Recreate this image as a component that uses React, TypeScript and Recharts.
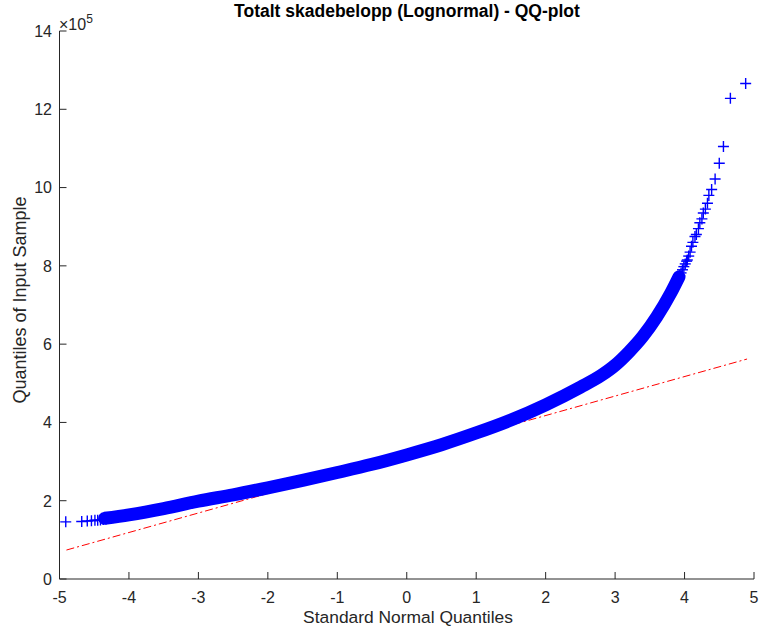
import React from 'react';
import { ComposedChart, XAxis, YAxis, Line, Scatter } from 'recharts';

// x: standard normal quantiles, y: sample quantiles in units of 1e5
const bandX = [-4.35, -4.0, -3.5, -3.0, -2.5, -2.0, -1.5, -1.0, -0.5, 0, 0.5, 1.0, 1.5, 2.0, 2.5, 2.8, 3.0, 3.2, 3.4, 3.6, 3.8, 3.92];
const bandY = [1.55, 1.64, 1.8, 1.99, 2.15, 2.33, 2.52, 2.72, 2.93, 3.17, 3.43, 3.73, 4.06, 4.45, 4.9, 5.2, 5.46, 5.8, 6.2, 6.7, 7.3, 7.72];

const tailX = [-4.91, -4.68, -4.6, -4.54, -4.49, -4.45, -4.41, -4.37, -4.33, 3.9, 3.93, 3.95, 3.97, 3.99, 4.01, 4.03, 4.04, 4.06, 4.08, 4.1, 4.12, 4.15, 4.17, 4.2, 4.22, 4.25, 4.27, 4.3, 4.33, 4.35, 4.39, 4.44, 4.5, 4.56, 4.66, 4.88];
const tailY = [1.46, 1.47, 1.48, 1.49, 1.5, 1.5, 1.51, 1.52, 1.53, 7.62, 7.75, 7.82, 7.9, 7.98, 8.05, 8.12, 8.15, 8.25, 8.35, 8.5, 8.6, 8.75, 8.8, 8.95, 9.1, 9.2, 9.35, 9.45, 9.6, 9.8, 9.95, 10.22, 10.62, 11.05, 12.28, 12.66];

const refX = [-4.9, 4.9];
const refY = [0.74, 5.62];

const xTicks = [-5, -4, -3, -2, -1, 0, 1, 2, 3, 4, 5];
const yTicks = [0, 2, 4, 6, 8, 10, 12, 14];

const bandData = bandX.map((x, i) => ({ x, y: bandY[i] }));
const tailData = tailX.map((x, i) => ({ x, y: tailY[i] }));
const refData = refX.map((x, i) => ({ x, y: refY[i] }));

const FONT = '"Liberation Sans", Arial, Helvetica, sans-serif';
const INK = '#262626';

const XTick = (props: any) => {
  const { x, y, payload } = props;
  return (
    <g>
      <line x1={x} y1={y} x2={x} y2={y - 7} stroke={INK} strokeWidth={1} />
      <text x={x} y={y + 23.5} textAnchor="middle" fontSize={16} fill={INK} fontFamily={FONT}>
        {payload.value}
      </text>
    </g>
  );
};

const YTick = (props: any) => {
  const { x, y, payload } = props;
  return (
    <g>
      <line x1={x} y1={y} x2={x + 7} y2={y} stroke={INK} strokeWidth={1} />
      <text x={x - 7.5} y={y + 5.8} textAnchor="end" fontSize={16} fill={INK} fontFamily={FONT}>
        {payload.value}
      </text>
    </g>
  );
};

const Plus = (props: any) => {
  const { cx, cy } = props;
  if (cx == null || cy == null) return null;
  const r = 5.5;
  return (
    <g>
      <line x1={cx - r} y1={cy} x2={cx + r} y2={cy} stroke="#0000ff" strokeWidth={1.4} />
      <line x1={cx} y1={cy - r} x2={cx} y2={cy + r} stroke="#0000ff" strokeWidth={1.4} />
    </g>
  );
};

const XLabel = () => (
  <text x={408} y={623} textAnchor="middle" fontSize={17.4} fill={INK} fontFamily={FONT}>
    Standard Normal Quantiles
  </text>
);

const YLabel = () => (
  <text x={26} y={300} textAnchor="middle" fontSize={18} fill={INK} fontFamily={FONT} transform="rotate(-90 26 300)">
    Quantiles of Input Sample
  </text>
);

export default function App() {
  return (
    <div style={{ position: 'absolute', left: 0, top: 0, width: 759, height: 632, background: '#fff', fontFamily: FONT }}>
      <div
        style={{
          position: 'absolute',
          left: 0,
          width: 814,
          top: 1,
          textAlign: 'center',
          fontWeight: 'bold',
          fontSize: 17.5,
          color: '#000',
          fontFamily: FONT,
          whiteSpace: 'nowrap',
        }}
      >
        Totalt skadebelopp (Lognormal) - QQ-plot
      </div>
      <div style={{ position: 'absolute', left: 59, top: 12, fontSize: 16, color: INK, fontFamily: FONT, lineHeight: '16px' }}>
        ×10<sup style={{ fontSize: 12, position: 'relative', top: -1 }}>5</sup>
      </div>
      <ComposedChart width={759} height={632} margin={{ top: 31, right: 5, bottom: 0, left: 0 }}>
        <XAxis
          type="number"
          dataKey="x"
          domain={[-5, 5]}
          ticks={xTicks}
          allowDataOverflow
          height={53}
          tickSize={0}
          tickMargin={0}
          tickLine={false}
          axisLine={{ stroke: INK }}
          tick={<XTick />}
          interval={0}
          label={<XLabel />}
        />
        <YAxis
          type="number"
          dataKey="y"
          domain={[0, 14]}
          ticks={yTicks}
          allowDataOverflow
          width={59.5}
          tickSize={0}
          tickMargin={0}
          tickLine={false}
          axisLine={{ stroke: INK }}
          tick={<YTick />}
          interval={0}
          label={<YLabel />}
        />
        <Line
          data={refData}
          dataKey="y"
          type="linear"
          stroke="#ff0000"
          strokeWidth={1}
          strokeDasharray="8 3 2 3"
          dot={false}
          activeDot={false}
          isAnimationActive={false}
        />
        <Line
          data={bandData}
          dataKey="y"
          type="monotone"
          stroke="#0000ff"
          strokeWidth={13}
          strokeLinecap="round"
          dot={false}
          activeDot={false}
          isAnimationActive={false}
        />
        <Scatter data={tailData} dataKey="y" shape={<Plus />} isAnimationActive={false} />
      </ComposedChart>
    </div>
  );
}
